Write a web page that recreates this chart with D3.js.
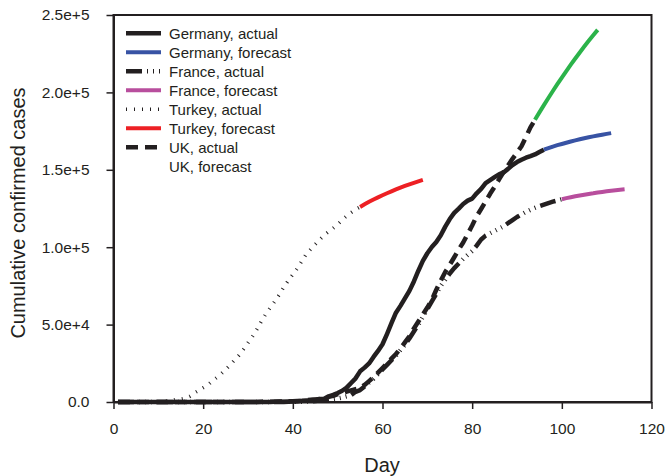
<!DOCTYPE html>
<html>
<head>
<meta charset="utf-8">
<script src="https://cdn.jsdelivr.net/npm/d3@7"></script>
<style>
  body { margin: 0; background: #fff; }
  svg { font-family: "Liberation Sans", Arial, sans-serif; }
</style>
</head>
<body>
<div id="chart"></div>
<script>
// tick labels
const xTicks = [0, 20, 40, 60, 80, 100, 120];
const yTicks = [0, 50000, 100000, 150000, 200000, 250000];
const yTickLabels = ["0.0", "5.0e+4", "1.0e+5", "1.5e+5", "2.0e+5", "2.5e+5"];

// first day of each series (values are one per day after that)
const germanyActualStart = 1;
const germanyForecastStart = 96;
const franceActualStart = 1;
const franceForecastStart = 100;
const turkeyActualStart = 1;
const turkeyForecastStart = 55;
const ukActualStart = 1;
const ukForecastStart = 94;

const germanyActual = [1, 4, 4, 4, 5, 8, 10, 12, 12, 12, 12, 13, 13, 14, 14, 16, 16, 16, 16, 16, 16, 16, 16, 16, 16, 16, 16, 16, 16, 16, 16,
  27, 46, 48, 79, 130, 159, 196, 262, 482, 670, 799, 1040, 1176, 1457, 1908, 2078, 3675, 4585, 5795, 7272, 9257,
  12300, 15300, 19800, 22200, 24900, 29100, 33000, 37300, 43900, 50900, 57700, 62100, 66900, 71800, 77900, 84800,
  91200, 96100, 100100, 103400, 107700, 113300, 118200, 122200, 124900, 127900, 130100, 131400, 134800, 137700,
  141400, 143300, 145200, 147100, 148300, 150600, 153100, 155000, 156500, 157800, 158800, 159900, 161500, 163000];
const germanyForecast = [163000, 164000, 165000, 165900, 166700, 167500, 168300, 169000, 169700, 170400, 171000,
  171600, 172200, 172700, 173200, 173700];

const franceActual = [2, 3, 3, 3, 4, 5, 5, 5, 6, 6, 6, 6, 6, 6, 6, 11, 11, 11, 11, 12, 12, 12, 12, 12, 12, 12, 12, 12, 12, 12, 12, 12, 12, 12, 14,
  18, 38, 57, 100, 130, 191, 212, 285, 423, 653, 949, 1126, 1412, 1784, 2281, 2876, 3661, 4469, 6600, 7700,
  10000, 12500, 15000, 18000, 21000, 24000, 27000, 30000, 33500, 37000, 41000, 45500, 50000, 55000, 60000, 65000,
  70000, 75000, 79000, 83000, 86500, 89500, 92500, 95000, 97500, 101000, 105000, 107500, 109000, 110500, 112000,
  113500, 115500, 117500, 119500, 121200, 122800, 124200, 125400, 126500, 127500, 128500, 129400, 130200, 131000];
const franceForecast = [131000, 131700, 132300, 132900, 133400, 133900, 134400, 134800, 135300, 135700, 136100,
  136500, 136800, 137100, 137400];

const turkeyActual = [0, 1, 1, 5, 5, 6, 18, 47, 98, 191, 359, 670, 1236, 1529, 1872, 2433, 3629, 5698, 7402, 9217,
  10800, 13500, 15700, 18100, 20900, 23900, 27100, 30200, 34100, 38200, 42300, 47000, 52200, 57000, 61000, 65100,
  69400, 74200, 78500, 82300, 86300, 91000, 95600, 98700, 101800, 104900, 107800, 110100, 112300, 114700, 117600,
  120200, 122400, 124400, 126000];
const turkeyForecast = [126000, 127700, 129300, 130800, 132200, 133550, 134850, 136100, 137300, 138450, 139550,
  140600, 141600, 142550, 143450];

const ukActual = [2, 2, 2, 2, 2, 2, 2, 2, 3, 8, 8, 9, 9, 9, 9, 9, 9, 9, 9, 9, 9, 9, 9, 13, 13, 13, 15, 20, 23, 36,
  40, 51, 85, 115, 163, 206, 273, 321, 382, 456, 460, 798, 1140, 1391, 1543, 1950, 2626, 3269, 3983, 5018, 5683,
  6650, 7500, 8300,
  9000, 11000, 13500, 16000, 19000, 22000, 25000, 28000, 31000, 34500, 38500, 42500, 47500, 52000, 56500, 61000,
  66000, 72500, 78500, 84000, 88600, 93500, 98500, 103000, 108500, 114000, 120000, 124700, 129500, 134500, 139000,
  143800, 148500, 152800, 157100, 161100, 165200, 171200, 177400, 182300];
const ukForecast = [182300, 187100, 191800, 196400, 200900, 205300, 209600, 213800, 217900, 221900, 225800, 229600,
  233300, 236900, 240400];

const legendNames = ["Germany, actual", "Germany, forecast", "France, actual", "France, forecast",
  "Turkey, actual", "Turkey, forecast", "UK, actual", "UK, forecast"];

const ink = "#231f20";
const series = [
  { name: "Turkey, actual", start: turkeyActualStart, values: turkeyActual, color: ink, width: 3.5, dash: "1,7" },
  { name: "Turkey, forecast", start: turkeyForecastStart, values: turkeyForecast, color: "#ed2024", width: 4 },
  { name: "France, actual", start: franceActualStart, values: franceActual, color: ink, width: 4.5, dash: "16,5,1,5,1,5,1,5" },
  { name: "France, forecast", start: franceForecastStart, values: franceForecast, color: "#b84e9d", width: 4 },
  { name: "UK, actual", start: ukActualStart, values: ukActual, color: ink, width: 4.5, dash: "12,7" },
  { name: "UK, forecast", start: ukForecastStart, values: ukForecast, color: "#2bb34a", width: 4, noSwatch: true },
  { name: "Germany, actual", start: germanyActualStart, values: germanyActual, color: ink, width: 4.5 },
  { name: "Germany, forecast", start: germanyForecastStart, values: germanyForecast, color: "#3853a4", width: 4 }
];

const W = 667, H = 476;
const plotLeft = 113.5, plotRight = 651.5, plotTop = 15, plotBottom = 402;

const svg = d3.select("#chart").append("svg").attr("width", W).attr("height", H);

const x = d3.scaleLinear().domain([0, 120]).range([plotLeft, plotRight]);
const y = d3.scaleLinear().domain([0, 250000]).range([plotBottom, plotTop]);

const line = d3.line().x((d) => x(d[0])).y((d) => y(d[1]));

// curves
series.forEach((s) => {
  const pts = s.values.map((v, i) => [s.start + i, v]);
  svg.append("path")
    .datum(pts)
    .attr("fill", "none")
    .attr("stroke", s.color)
    .attr("stroke-width", s.width)
    .attr("stroke-dasharray", s.dash || null)
    .attr("stroke-linejoin", "round")
    .attr("d", line);
});

// frame
svg.append("rect")
  .attr("x", plotLeft).attr("y", plotTop)
  .attr("width", plotRight - plotLeft).attr("height", plotBottom - plotTop)
  .attr("fill", "none").attr("stroke", ink).attr("stroke-width", 2);

const xAxis = svg.append("g")
  .attr("transform", `translate(0,${plotBottom})`)
  .call(d3.axisBottom(x).tickValues(xTicks).tickSize(7).tickSizeOuter(0).tickPadding(14));

const yAxis = svg.append("g")
  .attr("transform", `translate(${plotLeft},0)`)
  .call(d3.axisLeft(y).tickValues(yTicks).tickSize(7).tickSizeOuter(0).tickPadding(17)
    .tickFormat((d, i) => yTickLabels[i]));

[xAxis, yAxis].forEach((g) => {
  g.select(".domain").attr("stroke", ink).attr("stroke-width", 2);
  g.selectAll(".tick line").attr("stroke", ink).attr("stroke-width", 1.5);
  g.selectAll(".tick text").attr("fill", ink).style("font-size", "15.5px")
    .style("font-family", "'Liberation Sans', Arial, sans-serif");
});

// axis titles
svg.append("text")
  .attr("x", 382).attr("y", 471.5)
  .attr("text-anchor", "middle")
  .attr("fill", ink)
  .style("font-size", "20px")
  .text("Day");

svg.append("text")
  .attr("transform", "translate(25,213) rotate(-90)")
  .attr("text-anchor", "middle")
  .attr("fill", ink)
  .style("font-size", "20px")
  .text("Cumulative confirmed cases");

// legend
const legend = svg.append("g");
legendNames.forEach((name, i) => {
  const s = series.find((d) => d.name === name);
  const cy = 33.3 + i * 19;
  if (!s.noSwatch) {
    legend.append("line")
      .attr("x1", 126).attr("x2", 161)
      .attr("y1", cy).attr("y2", cy)
      .attr("stroke", s.color)
      .attr("stroke-width", s.width)
      .attr("stroke-dasharray", s.dash || null);
  }
  legend.append("text")
    .attr("x", 169).attr("y", cy + 5.5)
    .attr("fill", ink)
    .style("font-size", "15px")
    .text(name);
});
</script>
</body>
</html>
